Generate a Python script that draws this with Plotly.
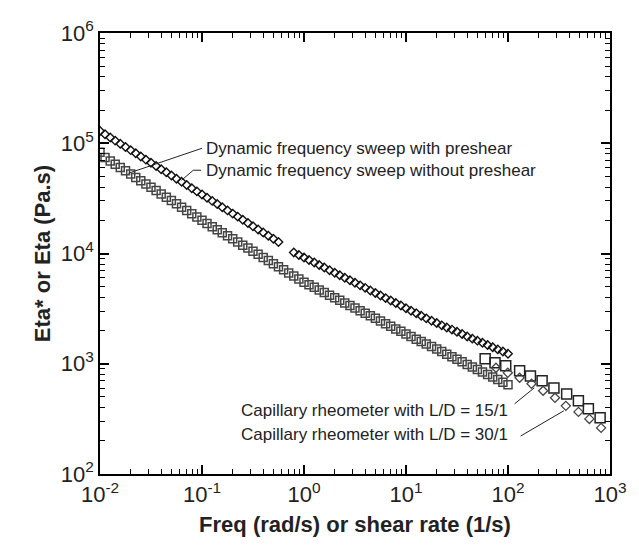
import math
import plotly.graph_objects as go

# Dynamic frequency sweeps (rad/s)
freq_dyn = [0.01, 0.0112, 0.0126, 0.0141, 0.0158, 0.0178, 0.02, 0.0224, 0.0251, 0.0282,
            0.0316, 0.0355, 0.0398, 0.0447, 0.0501, 0.0562, 0.0631, 0.0708, 0.0794, 0.0891,
            0.1, 0.112, 0.126, 0.141, 0.158, 0.178, 0.2, 0.224, 0.251, 0.282,
            0.316, 0.355, 0.398, 0.447, 0.501, 0.562, 0.631, 0.708, 0.794, 0.891,
            1, 1.12, 1.26, 1.41, 1.58, 1.78, 2, 2.24, 2.51, 2.82,
            3.16, 3.55, 3.98, 4.47, 5.01, 5.62, 6.31, 7.08, 7.94, 8.91,
            10, 11.2, 12.6, 14.1, 15.8, 17.8, 20, 22.4, 25.1, 28.2,
            31.6, 35.5, 39.8, 44.7, 50.1, 56.2, 63.1, 70.8, 79.4, 89.1, 100]

# with preshear (squares)
eta_with_preshear = [83000, 74100, 69200, 64600, 60300, 56200, 52500, 49000, 45700, 42700,
                     39800, 37200, 34700, 32400, 30200, 28200, 26300, 24500, 22900, 21400,
                     20000, 18700, 17500, 16400, 15400, 14500, 13600, 12700, 11900, 11200,
                     10500, 9820, 9200, 8630, 8090, 7590, 7110, 6670, 6250, 5860,
                     5500, 5210, 4930, 4670, 4430, 4190, 3970, 3760, 3560, 3380,
                     3200, 3030, 2870, 2720, 2580, 2440, 2310, 2190, 2070, 1970,
                     1860, 1770, 1670, 1590, 1510, 1430, 1360, 1290, 1220, 1160,
                     1100, 1040, 986, 935, 887, 841, 798, 757, 718, 681, 646]

# without preshear (diamonds)
eta_without_preshear = [129000, 120600, 112800, 105600, 98900, 92500, 86600, 81100, 75900, 71000,
                        66500, 62200, 58200, 54500, 51000, 47700, 44700, 41800, 39100, 36600,
                        34300, 32100, 30000, 28100, 26300, 24600, 23000, 21600, 20200, 18900,
                        17700, 16500, 15500, 14500, 13600, 12700, None, None, 10230, 9700,
                        9200, 8730, 8280, 7850, 7450, 7060, 6700, 6350, 6030, 5710,
                        5420, 5140, 4880, 4620, 4390, 4160, 3940, 3740, 3550, 3370,
                        3190, 3030, 2870, 2720, 2580, 2450, 2340, 2230, 2130, 2040,
                        1950, 1860, 1770, 1690, 1620, 1550, 1480, 1410, 1350, 1290, 1230]

# Capillary rheometer (1/s)
rate_cap15 = [59.7, 74.6, 95, 130, 166, 216, 282, 376, 490, 614, 800]
eta_cap15 = [1110, 1020, 960, 864, 776, 700, 604, 533, 461, 390, 324]
rate_cap30 = [76.2, 99.6, 130, 170, 221, 289, 369, 491, 628, 818]
eta_cap30 = [920, 828, 746, 658, 569, 491, 415, 366, 316, 262]

x_ticks = [0.01, 0.1, 1, 10, 100, 1000]
x_ticktext = ["10<sup>-2</sup>", "10<sup>-1</sup>", "10<sup>0</sup>", "10<sup>1</sup>",
              "10<sup>2</sup>", "10<sup>3</sup>"]
y_ticks = [100, 1000, 10000, 100000, 1000000]
y_ticktext = ["10<sup>2</sup>", "10<sup>3</sup>", "10<sup>4</sup>", "10<sup>5</sup>", "10<sup>6</sup>"]

labels_dyn = ["Dynamic frequency sweep with preshear", "Dynamic frequency sweep without preshear"]
labels_cap = ["Capillary rheometer with L/D = 15/1", "Capillary rheometer with L/D = 30/1"]

FONT = "Liberation Sans, Arial, sans-serif"

fig = go.Figure()
fig.add_trace(go.Scatter(x=freq_dyn, y=eta_with_preshear, mode="markers",
                         marker=dict(symbol="square-open", size=8, color="#454545",
                                     line=dict(width=1.5, color="#454545"))))
fig.add_trace(go.Scatter(x=freq_dyn, y=eta_without_preshear, mode="markers",
                         marker=dict(symbol="diamond-open", size=6.5, color="#111111",
                                     line=dict(width=1.4, color="#111111"))))
fig.add_trace(go.Scatter(x=rate_cap15, y=eta_cap15, mode="markers",
                         marker=dict(symbol="square-open", size=10, color="#222222",
                                     line=dict(width=1.5, color="#222222"))))
fig.add_trace(go.Scatter(x=rate_cap30, y=eta_cap30, mode="markers",
                         marker=dict(symbol="diamond-open", size=7, color="#444444",
                                     line=dict(width=1.3, color="#444444"))))

# leader lines
leaders = [
    ([0.1, 0.019], [90100, 53400]),
    ([0.098, 0.082, 0.063], [56900, 56900, 46100]),
    ([116, 181], [433, 605]),
    ([133, 352], [221, 374]),
]
for lx, ly in leaders:
    fig.add_trace(go.Scatter(x=lx, y=ly, mode="lines", line=dict(color="#222222", width=1),
                             hoverinfo="skip"))

annots = []
for txt, yv in zip(labels_dyn, [90100, 56900]):
    annots.append(dict(x=math.log10(0.104), y=math.log10(yv), xref="x", yref="y", text=txt,
                       showarrow=False, xanchor="left", yanchor="middle",
                       font=dict(family=FONT, size=17, color="#222222")))
for txt, yv in zip(labels_cap, [374, 228]):
    annots.append(dict(x=math.log10(104), y=math.log10(yv), xref="x", yref="y", text=txt,
                       showarrow=False, xanchor="right", yanchor="middle",
                       font=dict(family=FONT, size=17, color="#222222")))

minor_x = [m * 10 ** e for e in range(-2, 3) for m in range(2, 10)]
minor_y = [m * 10 ** e for e in range(2, 6) for m in range(2, 10)]

axis_common = dict(type="log", showgrid=False, zeroline=False, showline=True, linecolor="black",
                   linewidth=1.5, mirror="allticks", ticks="inside", ticklen=9, tickwidth=1.5,
                   tickcolor="black", tickmode="array",
                   tickfont=dict(family=FONT, size=22, color="#222222"))

fig.update_layout(
    width=639, height=548, margin=dict(l=100, r=20, t=33, b=74),
    paper_bgcolor="white", plot_bgcolor="white", showlegend=False,
    annotations=annots,
    xaxis=dict(**axis_common, range=[-2, 3], tickvals=x_ticks, ticktext=x_ticktext,
               minor=dict(tickmode="array", tickvals=minor_x, ticks="inside", ticklen=5,
                          tickwidth=1.2, tickcolor="black"),
               title=dict(text="<b>Freq (rad/s) or shear rate (1/s)</b>", standoff=10,
                          font=dict(family=FONT, size=22, color="#222222"))),
    yaxis=dict(**axis_common, range=[2, 6], tickvals=y_ticks, ticktext=y_ticktext,
               minor=dict(tickmode="array", tickvals=minor_y, ticks="inside", ticklen=5,
                          tickwidth=1.2, tickcolor="black"),
               title=dict(text="<b>Eta* or Eta (Pa.s)</b>", standoff=4,
                          font=dict(family=FONT, size=22, color="#222222"))),
)

fig.write_html("out.html")
